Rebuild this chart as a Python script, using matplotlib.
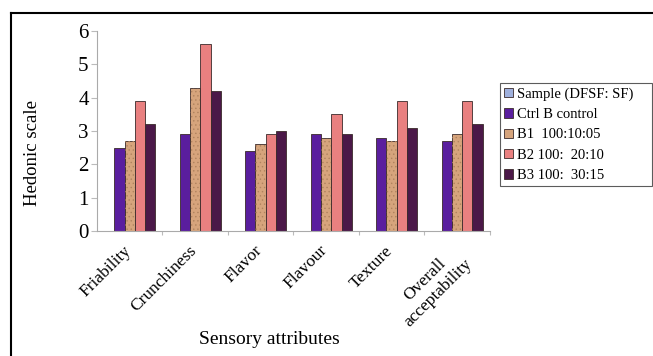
import matplotlib.pyplot as plt
import numpy as np
from matplotlib.lines import Line2D

plt.rcParams["font.family"] = ["Liberation Serif", "DejaVu Serif"]
plt.rcParams["hatch.linewidth"] = 0.5

attributes = ["Friability", "Crunchiness", "Flavor", "Flavour", "Texture",
              "Overall\nacceptability"]
series_names = ["Sample (DFSF: SF)", "Ctrl B control", "B1  100:10:05",
                "B2 100:  20:10", "B3 100:  30:15"]
sample = [0, 0, 0, 0, 0, 0]
ctrl = [2.5, 2.9, 2.4, 2.9, 2.8, 2.7]
b1 = [2.7, 4.3, 2.6, 2.8, 2.7, 2.9]
b2 = [3.9, 5.6, 2.9, 3.5, 3.9, 3.9]
b3 = [3.2, 4.2, 3.0, 2.9, 3.1, 3.2]
colors = ["#9fb0dc", "#5a1e9e", "#d6a47c", "#e98080", "#4b1848"]

fig = plt.figure(figsize=(6.53, 3.56), dpi=100)
ax = fig.add_axes([0.1485, 0.351, 0.6015, 0.562])

x = np.arange(len(attributes))
width = 0.157
all_series = [sample, ctrl, b1, b2, b3]
for i, (vals, name, col) in enumerate(zip(all_series, series_names, colors)):
    offs = (i - 2) * width
    ax.bar(x + offs, vals, width, color=col, edgecolor="#3a2a2a",
           linewidth=0.6, label=name)
    if i == 2:
        # faint dotted texture on the B1 bars
        ax.bar(x + offs, vals, width, fill=False, edgecolor="#b0835e",
               linewidth=0, hatch="....")

ax.set_xlim(-0.5, len(attributes) - 0.5)
ax.set_ylim(0, 6)
ax.set_yticks(range(7))
ax.set_yticklabels([str(v) for v in range(7)], fontsize=15)
ax.set_xticks(x + 0.5)
ax.set_xticklabels([])
ax.tick_params(axis="x", length=3, color="#bbbbbb", direction="out")
ax.tick_params(axis="y", length=4, color="#bbbbbb", pad=2)
for s in ["top", "right"]:
    ax.spines[s].set_visible(False)
for s in ["left", "bottom"]:
    ax.spines[s].set_color("#aaaaaa")
    ax.spines[s].set_linewidth(0.8)

# rotated category labels
for xi, lab in zip(x, attributes):
    ax.text(xi - 0.1, -0.35, lab, rotation=45, ha="right", va="top",
            rotation_mode="anchor", fontsize=12.5,
            multialignment="center", transform=ax.transData)

ax.set_ylabel("Hedonic scale", fontsize=13.5)
ax.yaxis.set_label_coords(-0.142, 0.39)
fig.text(0.413, 0.045, "Sensory attributes", ha="center", va="center",
         fontsize=14)

leg = ax.legend(loc="upper left", bbox_to_anchor=(1.025, 0.255, 0.387, 0.485),
                mode="expand", fontsize=10.5,
                frameon=True, fancybox=False, edgecolor="#333333",
                handlelength=0.6, handleheight=0.6, handletextpad=0.3,
                borderpad=0.3, labelspacing=0.5, borderaxespad=0)
leg.get_frame().set_linewidth(0.8)

# outer frame on top and left
fig.add_artist(Line2D([11 / 653, 1.0], [1 - 13 / 356, 1 - 13 / 356],
                      color="black", linewidth=1.5, transform=fig.transFigure))
fig.add_artist(Line2D([11 / 653, 11 / 653], [0.0, 1 - 13 / 356],
                      color="black", linewidth=1.5, transform=fig.transFigure))

fig.savefig("out.png", dpi=100)
